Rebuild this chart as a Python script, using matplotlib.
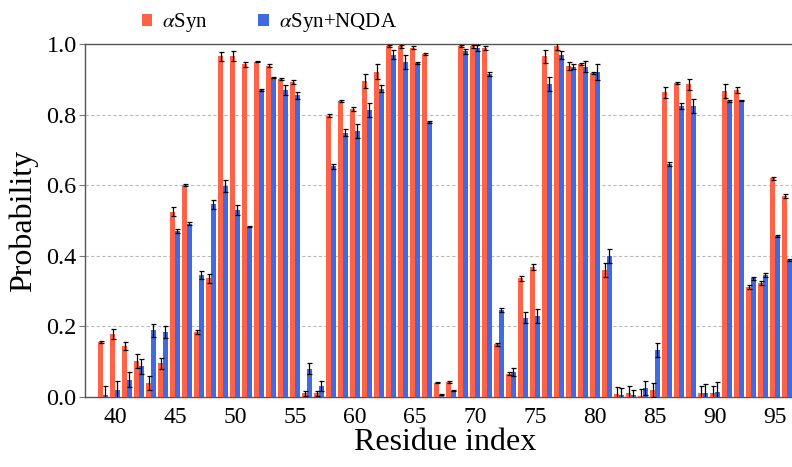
import matplotlib
matplotlib.use("Agg")
import matplotlib.pyplot as plt
import numpy as np
from matplotlib.patches import Patch

# Residue numbers and per-residue probabilities (mean and error)
residues = list(range(39, 97))

syn = [0.156, 0.178, 0.145, 0.102, 0.040, 0.095, 0.525, 0.600, 0.184, 0.336,
       0.965, 0.966, 0.942, 0.950, 0.939, 0.900, 0.893, 0.010, 0.010, 0.797,
       0.839, 0.816, 0.894, 0.922, 0.995, 0.993, 0.990, 0.972, 0.041, 0.043,
       0.995, 0.993, 0.989, 0.149, 0.066, 0.336, 0.369, 0.965, 0.993, 0.938,
       0.943, 0.917, 0.359, 0.009, 0.011, 0.003, 0.019, 0.863, 0.889, 0.886,
       0.011, 0.011, 0.867, 0.870, 0.312, 0.324, 0.619, 0.570]
syn_err = [0.002, 0.015, 0.012, 0.020, 0.020, 0.015, 0.012, 0.003, 0.005, 0.012,
           0.013, 0.013, 0.006, 0.002, 0.003, 0.003, 0.005, 0.008, 0.008, 0.005,
           0.002, 0.006, 0.020, 0.020, 0.003, 0.003, 0.003, 0.003, 0.002, 0.002,
           0.003, 0.005, 0.005, 0.005, 0.005, 0.008, 0.008, 0.018, 0.010, 0.012,
           0.003, 0.003, 0.020, 0.020, 0.020, 0.020, 0.020, 0.015, 0.003, 0.015,
           0.020, 0.020, 0.020, 0.008, 0.006, 0.006, 0.005, 0.005]

nqda = [0.007, 0.019, 0.049, 0.087, 0.189, 0.184, 0.471, 0.491, 0.345, 0.546,
        0.599, 0.530, 0.483, 0.870, 0.905, 0.870, 0.855, 0.080, 0.031, 0.653,
        0.749, 0.754, 0.812, 0.873, 0.970, 0.949, 0.946, 0.779, 0.007, 0.018,
        0.979, 0.989, 0.915, 0.246, 0.071, 0.225, 0.229, 0.887, 0.969, 0.936,
        0.936, 0.920, 0.400, 0.005, 0.005, 0.026, 0.132, 0.660, 0.824, 0.824,
        0.011, 0.014, 0.838, 0.840, 0.336, 0.345, 0.456, 0.388]
nqda_err = [0.025, 0.025, 0.022, 0.022, 0.018, 0.018, 0.005, 0.004, 0.012, 0.013,
            0.017, 0.015, 0.002, 0.002, 0.002, 0.015, 0.010, 0.015, 0.015, 0.008,
            0.010, 0.020, 0.020, 0.010, 0.012, 0.020, 0.003, 0.002, 0.002, 0.002,
            0.008, 0.008, 0.005, 0.006, 0.012, 0.015, 0.020, 0.020, 0.012, 0.008,
            0.015, 0.022, 0.020, 0.020, 0.015, 0.020, 0.020, 0.005, 0.008, 0.020,
            0.025, 0.028, 0.002, 0.002, 0.005, 0.005, 0.002, 0.002]

labels = [r"$\alpha$Syn", r"$\alpha$Syn+NQDA"]
colors = ["#FF6347", "#4169E1"]
xticks = list(range(40, 96, 5))
yticks = [0.0, 0.2, 0.4, 0.6, 0.8, 1.0]

plt.rcParams["font.family"] = ["Liberation Serif", "DejaVu Serif"]
plt.rcParams["mathtext.fontset"] = "stix"

fig = plt.figure(figsize=(7.92, 4.67), dpi=100)
ax = fig.add_axes([85 / 792, 70 / 467, 720 / 792, 353 / 467])

x = np.array(residues, dtype=float)
width = 0.37
err_kw = dict(ecolor="black", elinewidth=0.9, capsize=1.8, capthick=0.9)
ax.bar(x - 0.2, syn, width, yerr=syn_err, color=colors[0], error_kw=err_kw, zorder=3)
ax.bar(x + 0.2, nqda, width, yerr=nqda_err, color=colors[1], error_kw=err_kw, zorder=3)

ax.set_xlim(37.5, 97.5)
ax.set_ylim(0, 1.0)
ax.set_xticks(xticks)
ax.set_yticks(yticks)
ax.set_yticklabels([f"{v:.1f}" for v in yticks])
ax.tick_params(axis="x", length=0, pad=7, labelsize=17)
ax.tick_params(axis="y", length=4, width=0.8, color="#777777", pad=2, labelsize=17.5)

for y in yticks[1:-1]:
    ax.axhline(y, color="#bbbbbb", lw=0.8, ls=(0, (3, 2)), zorder=1)

for side in ["left", "bottom", "top", "right"]:
    ax.spines[side].set_color("#555555")
    ax.spines[side].set_linewidth(1.0)

ax.set_xlabel("Residue index", fontsize=23, labelpad=0)
ax.set_ylabel("Probability", fontsize=23, labelpad=6)

handles = [Patch(facecolor=c, edgecolor="none") for c in colors]
fig.legend(handles, labels, loc="center", bbox_to_anchor=(0.34, 0.951), ncol=2,
           frameon=False, fontsize=15, handlelength=0.5, handleheight=0.5,
           handletextpad=0.5, columnspacing=2.4)

fig.savefig("out.png", dpi=100)
